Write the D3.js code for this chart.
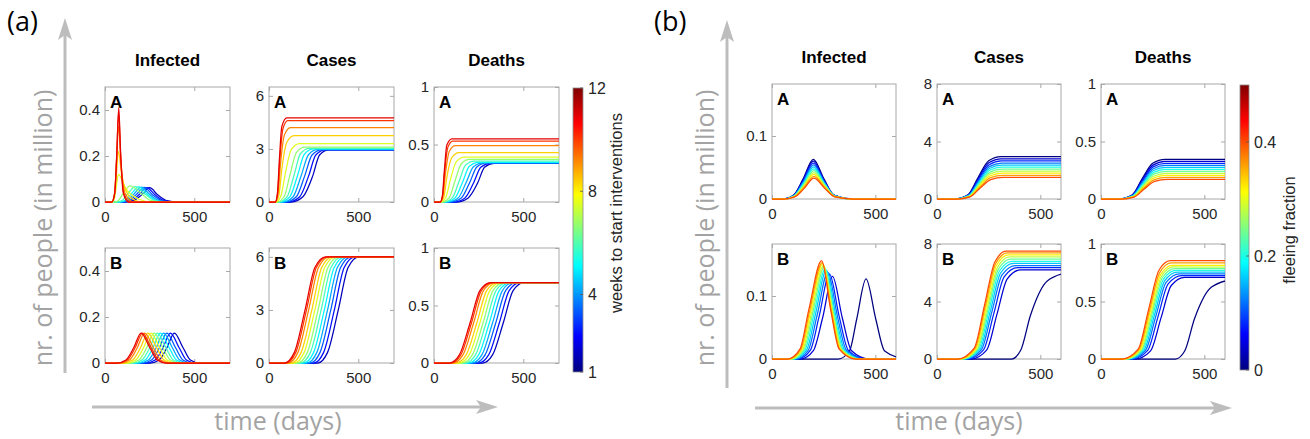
<!DOCTYPE html>
<html>
<head>
<meta charset="utf-8">
<script src="https://cdn.jsdelivr.net/npm/d3@7"></script>
<style>
  body { margin: 0; background: #fff; }
  svg { display: block; }
  text { font-family: "Liberation Sans", Arial, sans-serif; }
</style>
</head>
<body>
<svg id="fig" width="1310" height="439"></svg>
<script>
// ---- data ----
const weeks = [1, 2, 3, 4, 5, 6, 7, 8, 9, 10, 11, 12];
const fractions = [0, 0.04, 0.08, 0.12, 0.16, 0.2, 0.24, 0.28, 0.32, 0.36, 0.4];

// bell curves: [start, 10% up, 50% up, peak day, peak value, 50% down, 10% down, end]  (days)
// sigmoid curves: [start, 10% day, 50% day, 90% day, plateau day, final value]

// (a) scenario A, weeks 1..12
const aInfectedA = [
  [110, 160, 205, 250, 0.062, 295, 345, 410],
  [100, 148, 190, 235, 0.063, 280, 330, 395],
  [92, 136, 175, 220, 0.064, 265, 315, 380],
  [84, 124, 160, 205, 0.065, 250, 300, 365],
  [76, 112, 145, 190, 0.066, 237, 287, 350],
  [66, 96, 125, 170, 0.067, 225, 275, 335],
  [52, 75, 100, 140, 0.07, 205, 255, 310],
  [38, 52, 62, 75, 0.12, 115, 190, 260],
  [38, 52, 63, 75, 0.22, 95, 140, 210],
  [38, 53, 64, 76, 0.33, 90, 115, 160],
  [38, 54, 65, 76, 0.39, 88, 105, 140],
  [38, 55, 66, 77, 0.41, 88, 102, 130]
];
const aCasesA = [
  [125, 190, 245, 283, 335, 2.95], [110, 172, 222, 262, 315, 2.95], [95, 153, 200, 241, 295, 2.95],
  [80, 135, 180, 221, 275, 2.97], [65, 117, 160, 198, 250, 3.0], [55, 102, 140, 176, 225, 3.03],
  [45, 85, 118, 153, 200, 3.1], [38, 66, 92, 125, 170, 3.3], [35, 55, 72, 100, 140, 3.75],
  [35, 50, 64, 86, 120, 4.2], [35, 48, 60, 78, 105, 4.6], [35, 47, 58, 72, 100, 4.75]
];
const aDeathsA = [
  [125, 190, 245, 283, 335, 0.335], [110, 172, 222, 262, 315, 0.335], [95, 153, 200, 241, 295, 0.34],
  [80, 135, 180, 221, 275, 0.34], [65, 117, 160, 198, 250, 0.345], [55, 102, 140, 176, 225, 0.355],
  [45, 85, 118, 153, 200, 0.37], [38, 66, 92, 125, 170, 0.39], [35, 55, 72, 100, 140, 0.43],
  [35, 50, 64, 86, 120, 0.49], [35, 48, 60, 78, 105, 0.53], [35, 47, 58, 72, 100, 0.55]
];
// (a) scenario B
const aInfectedB = [
  [253, 303, 346, 388, 0.13, 438, 478, 528], [231, 281, 324, 366, 0.13, 416, 456, 506],
  [211, 261, 304, 346, 0.13, 396, 436, 486], [193, 243, 286, 328, 0.13, 378, 418, 468],
  [175, 225, 268, 310, 0.13, 360, 400, 450], [157, 207, 250, 292, 0.13, 342, 382, 432],
  [140, 190, 233, 275, 0.13, 325, 365, 415], [122, 172, 215, 257, 0.13, 307, 347, 397],
  [105, 155, 198, 240, 0.13, 290, 330, 380], [87, 137, 180, 222, 0.13, 272, 312, 362],
  [75, 125, 168, 210, 0.13, 260, 300, 350], [67, 117, 160, 202, 0.13, 252, 292, 342]
];
const aCasesB = [
  [273, 328, 388, 443, 503, 6.0], [251, 306, 366, 421, 481, 6.0], [231, 286, 346, 401, 461, 6.0],
  [213, 268, 328, 383, 443, 6.0], [195, 250, 310, 365, 425, 6.0], [177, 232, 292, 347, 407, 6.0],
  [160, 215, 275, 330, 390, 6.0], [142, 197, 257, 312, 372, 6.0], [125, 180, 240, 295, 355, 6.0],
  [107, 162, 222, 277, 337, 6.0], [95, 150, 210, 265, 325, 6.0], [87, 142, 202, 257, 317, 6.0]
];
const aDeathsB = [
  [273, 328, 388, 443, 503, 0.7], [251, 306, 366, 421, 481, 0.7], [231, 286, 346, 401, 461, 0.7],
  [213, 268, 328, 383, 443, 0.7], [195, 250, 310, 365, 425, 0.7], [177, 232, 292, 347, 407, 0.7],
  [160, 215, 275, 330, 390, 0.7], [142, 197, 257, 312, 372, 0.7], [125, 180, 240, 295, 355, 0.7],
  [107, 162, 222, 277, 337, 0.7], [95, 150, 210, 265, 325, 0.7], [87, 142, 202, 257, 317, 0.7]
];

// (b) scenario A, fleeing fraction 0..0.4
const bInfectedA = [
  [55, 105, 150, 200, 0.063, 252, 300, 390], [55, 105, 150, 200, 0.06, 252, 300, 390],
  [55, 106, 151, 200, 0.057, 252, 301, 390], [56, 106, 151, 201, 0.054, 253, 301, 391],
  [56, 107, 152, 201, 0.051, 253, 302, 391], [57, 107, 152, 201, 0.048, 254, 302, 392],
  [57, 108, 153, 202, 0.045, 254, 303, 392], [58, 108, 153, 202, 0.042, 255, 303, 393],
  [58, 109, 154, 202, 0.039, 255, 304, 393], [59, 109, 154, 203, 0.036, 256, 304, 394],
  [59, 110, 155, 203, 0.033, 256, 305, 394]
];
const bCasesA = [
  [85, 150, 198, 250, 310, 2.95], [86, 151, 199, 251, 311, 2.8], [87, 152, 200, 252, 312, 2.65],
  [88, 153, 201, 253, 313, 2.5], [89, 154, 202, 254, 314, 2.36], [90, 155, 203, 255, 315, 2.22],
  [91, 156, 204, 256, 316, 2.08], [92, 157, 205, 257, 317, 1.94], [93, 158, 206, 258, 318, 1.8],
  [94, 159, 207, 259, 319, 1.65], [95, 160, 208, 260, 320, 1.5]
];
const bDeathsA = [
  [85, 150, 198, 250, 310, 0.345], [86, 151, 199, 251, 311, 0.327], [87, 152, 200, 252, 312, 0.31],
  [88, 153, 201, 253, 313, 0.292], [89, 154, 202, 254, 314, 0.275], [90, 155, 203, 255, 315, 0.257],
  [91, 156, 204, 256, 316, 0.24], [92, 157, 205, 257, 317, 0.222], [93, 158, 206, 258, 318, 0.205],
  [94, 159, 207, 259, 319, 0.187], [95, 160, 208, 260, 320, 0.17]
];
// (b) scenario B
const bInfectedB = [
  [320, 375, 410, 455, 0.127, 502, 545, 640], [140, 200, 245, 293, 0.131, 340, 385, 470],
  [125, 185, 228, 278, 0.135, 325, 370, 455], [115, 175, 218, 270, 0.138, 316, 360, 445],
  [105, 167, 210, 263, 0.141, 308, 352, 435], [100, 160, 203, 258, 0.143, 302, 345, 430],
  [95, 154, 197, 253, 0.146, 297, 340, 425], [90, 149, 192, 250, 0.148, 294, 336, 420],
  [85, 144, 187, 246, 0.151, 290, 332, 415], [80, 139, 182, 243, 0.153, 287, 328, 410],
  [75, 135, 178, 240, 0.156, 284, 325, 405]
];
const bCasesB = [
  [360, 405, 452, 535, 640, 6.05], [165, 240, 290, 340, 405, 6.2], [150, 225, 275, 325, 390, 6.35],
  [140, 215, 265, 315, 380, 6.5], [130, 208, 258, 308, 370, 6.65], [125, 202, 252, 302, 363, 6.8],
  [120, 197, 247, 297, 357, 6.95], [115, 193, 243, 293, 351, 7.1], [110, 188, 238, 288, 345, 7.25],
  [105, 184, 234, 284, 341, 7.38], [100, 180, 230, 280, 335, 7.5]
];
const bDeathsB = [
  [360, 405, 452, 535, 640, 0.695], [165, 240, 290, 340, 405, 0.71], [150, 225, 275, 325, 390, 0.725],
  [140, 215, 265, 315, 380, 0.74], [130, 208, 258, 308, 370, 0.755], [125, 202, 252, 302, 363, 0.77],
  [120, 197, 247, 297, 357, 0.785], [115, 193, 243, 293, 351, 0.8], [110, 188, 238, 288, 345, 0.815],
  [105, 184, 234, 284, 341, 0.835], [100, 180, 230, 280, 335, 0.855]
];

const colTitles = ["Infected", "Cases", "Deaths"];
const xTicks = [0, 500];
const weekTicks = [1, 4, 8, 12];
const fracTicks = [0, 0.2, 0.4];

// ---- helpers ----
const svg = d3.select("#fig");
svg.append("rect").attr("width", 1310).attr("height", 439).attr("fill", "#fff");

// MATLAB jet colormap
const jet = d3.scaleLinear()
  .domain([0, 0.125, 0.375, 0.625, 0.875, 1])
  .range(["#000080", "#0000ff", "#00ffff", "#ffff00", "#ff0000", "#800000"])
  .clamp(true);

const weekColor = w => jet(0.06 + (w - 1) / 11 * 0.84);
const fracColor = f => jet(f / 0.5);

// key points -> [day, value] lists
function bellPoints(c, xMax) {
  const pk = c[4];
  const pts = [[0, 0], [c[0], 0], [c[1], pk * 0.1], [c[2], pk * 0.5], [c[3], pk],
    [c[5], pk * 0.5], [c[6], pk * 0.1], [c[7], 0]];
  if (c[7] < xMax) pts.push([xMax, 0]);
  return pts;
}
function sigmoidPoints(c, xMax) {
  const f = c[5];
  const pts = [[0, 0], [c[0], 0], [c[1], f * 0.1], [c[2], f * 0.5], [c[3], f * 0.9], [c[4], f]];
  if (c[4] < xMax) pts.push([xMax, f]);
  return pts;
}

let clipId = 0;
const fmt = d3.format("~g");
const boxColor = "#a8a8a8";

function drawPanel(p) {
  const g = svg.append("g").attr("transform", `translate(${p.left},${p.top})`);
  const x = d3.scaleLinear().domain([0, p.xMax]).range([0, p.w]);
  const y = d3.scaleLinear().domain([0, p.yMax]).range([p.h, 0]);

  // box
  g.append("rect").attr("width", p.w).attr("height", p.h)
    .attr("fill", "none").attr("stroke", boxColor).attr("stroke-width", 1);

  // inward ticks on all sides
  const tickStyle = sel => {
    sel.select(".domain").remove();
    sel.selectAll(".tick line").attr("stroke", boxColor);
    sel.selectAll("text").attr("fill", "#262626").attr("font-size", 15)
      .attr("font-family", '"Liberation Sans", Arial, sans-serif');
  };
  g.append("g").attr("transform", `translate(0,${p.h})`)
    .call(d3.axisBottom(x).tickValues(xTicks).tickSize(-4).tickPadding(9).tickFormat(fmt)).call(tickStyle);
  g.append("g")
    .call(d3.axisTop(x).tickValues(xTicks).tickSize(-4).tickFormat("")).call(tickStyle);
  g.append("g")
    .call(d3.axisLeft(y).tickValues(p.yTicks).tickSize(-4).tickPadding(5).tickFormat(fmt)).call(tickStyle);
  g.append("g").attr("transform", `translate(${p.w},0)`)
    .call(d3.axisRight(y).tickValues(p.yTicks).tickSize(-4).tickFormat("")).call(tickStyle);

  // curves
  const id = "clip" + (clipId++);
  g.append("clipPath").attr("id", id).append("rect")
    .attr("x", 0).attr("y", -3).attr("width", p.w).attr("height", p.h + 6);
  const line = d3.line().x(d => x(d[0])).y(d => y(d[1])).curve(d3.curveMonotoneX);
  const build = p.kind === "bell" ? bellPoints : sigmoidPoints;
  g.append("g").attr("clip-path", `url(#${id})`)
    .selectAll("path").data(p.curves).enter().append("path")
    .attr("d", c => line(build(c, p.xMax)))
    .attr("fill", "none")
    .attr("stroke", (c, i) => p.color(p.keys[i]))
    .attr("stroke-width", 1.25);

  // panel letter
  g.append("text").attr("x", 5).attr("y", 21).attr("font-size", 17).attr("font-weight", "bold")
    .attr("fill", "#000").text(p.letter);

  if (p.title) {
    g.append("text").attr("x", p.w / 2).attr("y", p.titleY).attr("text-anchor", "middle")
      .attr("font-size", 17).attr("font-weight", "bold").attr("fill", "#000").text(p.title);
  }
}

function drawColorbar(cb) {
  const g = svg.append("g").attr("transform", `translate(${cb.left},${cb.top})`);
  const gid = "grad" + cb.name;
  const grad = svg.append("defs").append("linearGradient").attr("id", gid)
    .attr("x1", 0).attr("y1", 1).attr("x2", 0).attr("y2", 0);
  d3.range(0, 1.0001, 0.125).forEach(t => {
    grad.append("stop").attr("offset", t).attr("stop-color", jet(t));
  });
  g.append("rect").attr("width", cb.w).attr("height", cb.h)
    .attr("fill", `url(#${gid})`).attr("stroke", "#8c8c8c").attr("stroke-width", 0.8);
  const s = d3.scaleLinear().domain(cb.domain).range([cb.h, 0]);
  cb.ticks.forEach(t => {
    g.append("line").attr("x1", cb.w - 3).attr("x2", cb.w).attr("y1", s(t)).attr("y2", s(t))
      .attr("stroke", "#555").attr("stroke-width", 0.8);
    g.append("text").attr("x", cb.w + 5).attr("y", s(t)).attr("dy", "0.35em")
      .attr("font-size", 16).attr("fill", "#262626").text(fmt(t));
  });
  // label position given in page coordinates
  svg.append("text").attr("transform", `translate(${cb.labelX},${cb.labelY}) rotate(-90)`)
    .attr("text-anchor", "middle").attr("font-size", 16.5).attr("fill", "#262626").text(cb.label);
}

const arrowColor = "#bdbdbd";
const bigText = "#a3a3a3";
function drawFrame(f) {
  // vertical arrow
  svg.append("line").attr("x1", f.vx).attr("x2", f.vx).attr("y1", f.vBottom).attr("y2", f.vTip + 14)
    .attr("stroke", arrowColor).attr("stroke-width", 3);
  svg.append("path")
    .attr("d", `M${f.vx},${f.vTip} L${f.vx - 7},${f.vTip + 22} L${f.vx},${f.vTip + 17} L${f.vx + 7},${f.vTip + 22} Z`)
    .attr("fill", arrowColor);
  // horizontal arrow
  svg.append("line").attr("x1", f.hLeft).attr("x2", f.hTip - 14).attr("y1", f.hy).attr("y2", f.hy)
    .attr("stroke", arrowColor).attr("stroke-width", 3);
  svg.append("path")
    .attr("d", `M${f.hTip},${f.hy} L${f.hTip - 22},${f.hy - 7} L${f.hTip - 17},${f.hy} L${f.hTip - 22},${f.hy + 7} Z`)
    .attr("fill", arrowColor);

  svg.append("text").attr("transform", `translate(${f.yLabelX},${f.yLabelY}) rotate(-90)`)
    .attr("text-anchor", "middle").attr("font-size", 25).attr("fill", bigText)
    .style("font-family", '"Open Sans", sans-serif').text("nr. of people (in million)");
  svg.append("text").attr("x", f.xLabelX).attr("y", f.xLabelY)
    .attr("text-anchor", "middle").attr("font-size", 25).attr("fill", bigText)
    .style("font-family", '"Open Sans", sans-serif').text("time (days)");
  svg.append("text").attr("x", f.tagX).attr("y", 31).attr("font-size", 27).attr("fill", "#000")
    .style("font-family", '"Open Sans", sans-serif').text(f.tag);
}

// ---- frames, arrows and big labels ----
drawFrame({ tag: "(a)", tagX: 7, vx: 65, vTip: 18, vBottom: 373, hy: 407, hLeft: 92, hTip: 498,
  yLabelX: 52, yLabelY: 228, xLabelX: 278, xLabelY: 430 });
drawFrame({ tag: "(b)", tagX: 654, vx: 727, vTip: 20, vBottom: 388, hy: 408, hLeft: 755, hTip: 1232,
  yLabelX: 714, yLabelY: 228, xLabelX: 959, xLabelY: 430 });

// ---- figure (a) ----
const aLefts = [105, 269, 434], aTops = [87, 248];
const aRows = [[aInfectedA, aCasesA, aDeathsA], [aInfectedB, aCasesB, aDeathsB]];
const aYMax = [0.5, 6.5, 1], aYTicks = [[0, 0.2, 0.4], [0, 3, 6], [0, 0.5, 1]];
aRows.forEach((row, r) => row.forEach((curves, c) => {
  drawPanel({ left: aLefts[c], top: aTops[r], w: 125, h: 115, xMax: 700,
    yMax: aYMax[c], yTicks: aYTicks[c], kind: c === 0 ? "bell" : "sigmoid",
    curves: curves, keys: weeks, color: weekColor, letter: r === 0 ? "A" : "B",
    title: r === 0 ? colTitles[c] : null, titleY: -21 });
}));

// ---- figure (b) ----
const bLefts = [772, 937, 1101], bTops = [84, 244];
const bRows = [[bInfectedA, bCasesA, bDeathsA], [bInfectedB, bCasesB, bDeathsB]];
const bYMax = [0.1825, 8, 1], bYTicks = [[0, 0.1], [0, 4, 8], [0, 0.5, 1]];
bRows.forEach((row, r) => row.forEach((curves, c) => {
  drawPanel({ left: bLefts[c], top: bTops[r], w: 124, h: 115, xMax: 600,
    yMax: bYMax[c], yTicks: bYTicks[c], kind: c === 0 ? "bell" : "sigmoid",
    curves: curves, keys: fractions, color: fracColor, letter: r === 0 ? "A" : "B",
    title: r === 0 ? colTitles[c] : null, titleY: -21 });
}));

drawColorbar({ name: "a", left: 573, top: 88, w: 10, h: 284, domain: [1, 12], ticks: weekTicks,
  label: "weeks to start interventions", labelX: 622, labelY: 213 });
drawColorbar({ name: "b", left: 1240, top: 85, w: 9, h: 285, domain: [0, 0.5], ticks: fracTicks,
  label: "fleeing fraction", labelX: 1295, labelY: 230 });
</script>
</body>
</html>
